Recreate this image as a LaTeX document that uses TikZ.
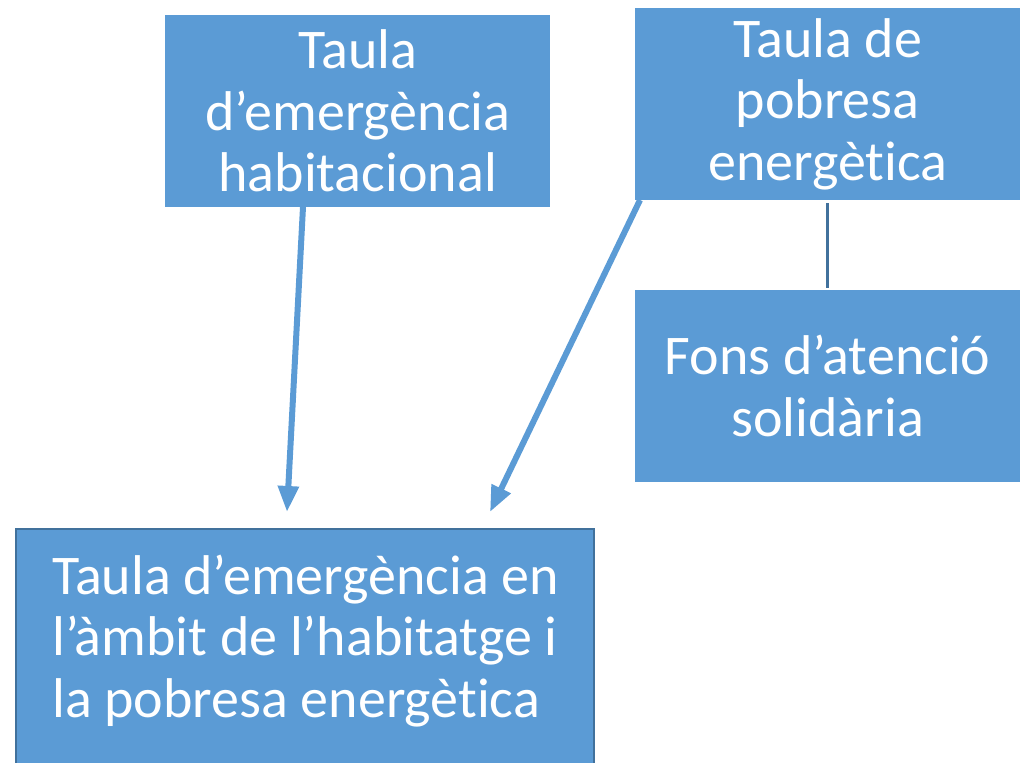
\documentclass[tikz,border=0pt]{standalone}
\usepackage{fontspec}
\setmainfont[RawFeature={-liga;-clig;-calt;-dlig}]{Carlito}
\usetikzlibrary{arrows.meta,calc}
\definecolor{boxblue}{HTML}{5B9BD5}
\definecolor{boxedge}{HTML}{41719C}
\begin{document}
\begin{tikzpicture}[x=1pt,y=-1pt,
  box/.style={fill=boxblue,draw=none,text=white,anchor=north west,inner sep=0pt,
    font=\fontsize{56}{61.5}\selectfont,align=center},
  txt/.style={text=white,inner sep=0pt,font=\fontsize{56}{61.5}\selectfont,align=left},
  arr/.style={draw=boxblue,line width=6pt,-{Triangle[width=20pt,length=26pt]}},
  link/.style={draw=boxedge,line width=3pt}]
\useasboundingbox (0,0) rectangle (1023,763);
\clip (0,0) rectangle (1023,763);
\node[box,minimum width=385pt,minimum height=192pt] (A) at (165,15)
  {Taula\\d’emergència\\habitacional};
\node[box,minimum width=385pt,minimum height=192pt] (B) at (635,8)
  {Taula de\\pobresa\\energètica};
\node[box,minimum width=385pt,minimum height=192pt] (C) at (635,290)
  {Fons d’atenció\\solidària};
\node[box,draw=boxedge,line width=1.5pt,minimum width=578pt,minimum height=260pt] (D) at (15,528) {};
\node[txt,anchor=west] (Dt) at (52,641)
  {Taula d’emergència en\\l’àmbit de l’habitatge i\\la pobresa energètica};
\coordinate (a1) at (303,207);
\coordinate (e1) at (287,512);
\coordinate (a2) at (640,200);
\coordinate (e2) at (490,512);
\draw[arr] (a1) -- (e1);
\draw[arr] (a2) -- (e2);
\draw[link] ($(B.south)+(-0.5,3)$) -- ($(C.north)+(-0.5,-2)$);
\end{tikzpicture}
\end{document}
